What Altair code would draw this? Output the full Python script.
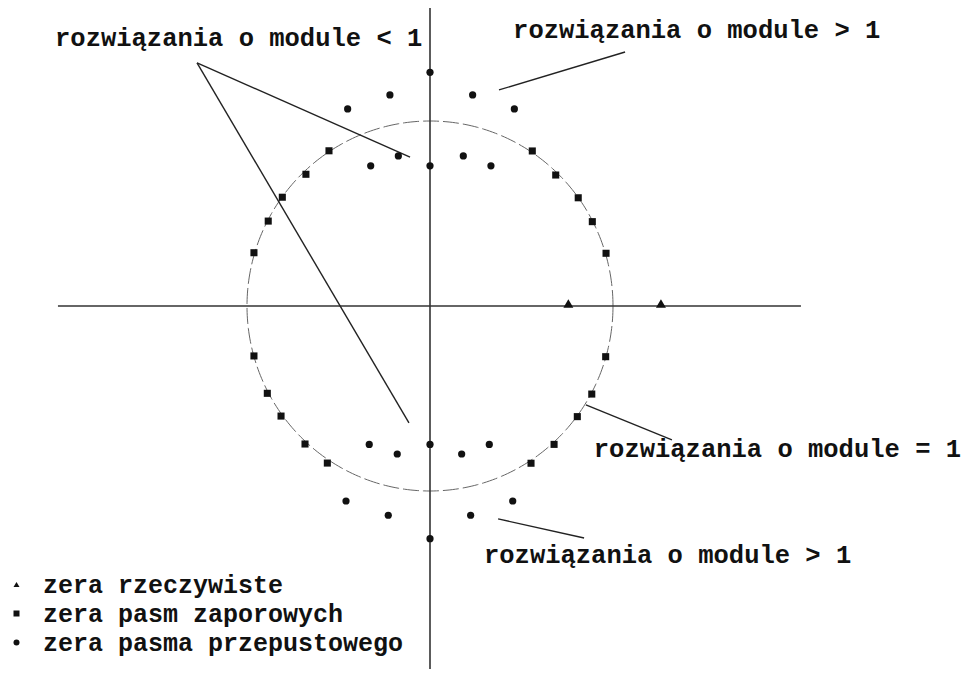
import numpy as np
import pandas as pd
import altair as alt

# ---------------- data (coordinates in units of the unit circle) ----------------
real_x = [0.756, 1.262]
real_y = [0.0, 0.0]

stop_x = [-0.552, -0.678, -0.807, -0.884, -0.962, 0.559, 0.687, 0.810, 0.887, 0.962,
          -0.962, -0.889, -0.814, -0.683, -0.561, 0.960, 0.884, 0.805, 0.678, 0.552]
stop_y = [0.839, 0.712, 0.588, 0.459, 0.288, 0.838, 0.708, 0.585, 0.456, 0.285,
          -0.270, -0.472, -0.595, -0.746, -0.849, -0.274, -0.476, -0.598, -0.748, -0.850]

pass_x = [0.0, -0.219, 0.233, -0.450, 0.461, -0.173, 0.182, -0.324, 0.333, 0.0,
          0.0, -0.332, 0.324, -0.179, 0.173, -0.459, 0.452, -0.228, 0.222, 0.0]
pass_y = [1.263, 1.141, 1.141, 1.065, 1.065, 0.811, 0.811, 0.758, 0.758, 0.758,
          -0.748, -0.748, -0.748, -0.800, -0.800, -1.054, -1.054, -1.131, -1.131, -1.258]

legend_labels = ["zera rzeczywiste", "zera pasm zaporowych", "zera pasma przepustowego"]

note_texts = ["rozwiązania o module < 1", "rozwiązania o module > 1",
              "rozwiązania o module = 1", "rozwiązania o module > 1"]
note_x = [-2.049, 0.454, 0.895, 0.295]
note_y = [1.405, 1.449, -0.816, -1.389]

leader_x = [-1.273, -1.273, 1.066, 0.852, 0.372]
leader_y = [1.314, 1.314, 1.373, -0.535, -1.151]
leader_x2 = [-0.109, -0.115, 0.377, 1.322, 0.842]
leader_y2 = [0.805, -0.632, 1.168, -0.724, -1.254]

# ---------------- layout ----------------
W, H = 961, 661
X_DOM = [-2.30601, 2.94536]
Y_DOM = [-1.96216, 1.61081]
FONT = "Liberation Mono"
INK = "#111111"

xs = alt.Scale(domain=X_DOM, nice=False, zero=False)
ys = alt.Scale(domain=Y_DOM, nice=False, zero=False)

pts = pd.concat([
    pd.DataFrame({"x": real_x, "y": real_y, "kind": legend_labels[0]}),
    pd.DataFrame({"x": stop_x, "y": stop_y, "kind": legend_labels[1]}),
    pd.DataFrame({"x": pass_x, "y": pass_y, "kind": legend_labels[2]}),
], ignore_index=True)

shape_scale = alt.Scale(domain=legend_labels, range=["triangle-up", "square", "circle"])
legend = alt.Legend(title=None, orient="none", legendX=-4, legendY=564,
                    labelFont=FONT, labelFontSize=25, labelFontWeight="bold",
                    labelColor=INK, symbolSize=36, symbolFillColor=INK,
                    symbolStrokeWidth=0, labelOffset=14, rowPadding=3, padding=0,
                    labelLimit=0)

def point_layer(kind, size, yoff=0):
    return alt.Chart(pts).transform_filter(alt.datum.kind == kind).mark_point(
        filled=True, size=size, opacity=1, yOffset=yoff
    ).encode(
        x=alt.X("x:Q", scale=xs, axis=None),
        y=alt.Y("y:Q", scale=ys, axis=None),
        shape=alt.Shape("kind:N", scale=shape_scale, legend=legend),
        color=alt.value(INK),
    )

# unit circle (reference curve)
t = np.linspace(0, 2 * np.pi, 361)
circ = pd.DataFrame({"x": np.cos(t), "y": np.sin(t), "o": np.arange(361)})
circle = alt.Chart(circ).mark_line(color="#666666", strokeWidth=1, strokeDash=[16, 4]).encode(
    x=alt.X("x:Q", scale=xs, axis=None),
    y=alt.Y("y:Q", scale=ys, axis=None),
    order="o:Q",
)

axes_df = pd.DataFrame({"x": [-2.033, 0.0], "x2": [2.027, 0.0],
                        "y": [0.0, Y_DOM[1]], "y2": [0.0, Y_DOM[0]]})
axes = alt.Chart(axes_df).mark_rule(color="#333333", strokeWidth=1.6).encode(
    x=alt.X("x:Q", scale=xs, axis=None), x2="x2:Q",
    y=alt.Y("y:Q", scale=ys, axis=None), y2="y2:Q",
)

lead_df = pd.DataFrame({"x": leader_x, "y": leader_y, "x2": leader_x2, "y2": leader_y2})
leaders = alt.Chart(lead_df).mark_rule(color="#222222", strokeWidth=1.4).encode(
    x=alt.X("x:Q", scale=xs, axis=None), x2="x2:Q",
    y=alt.Y("y:Q", scale=ys, axis=None), y2="y2:Q",
)

notes_df = pd.DataFrame({"t": note_texts, "x": note_x, "y": note_y})
notes = alt.Chart(notes_df).mark_text(
    align="left", baseline="alphabetic", font=FONT, fontSize=25.5,
    fontWeight="bold", color=INK,
).encode(
    x=alt.X("x:Q", scale=xs, axis=None),
    y=alt.Y("y:Q", scale=ys, axis=None),
    text="t:N",
)

chart = alt.layer(
    circle, axes, leaders,
    point_layer(legend_labels[0], 100, -2.5),
    point_layer(legend_labels[1], 50),
    point_layer(legend_labels[2], 52),
    notes,
).properties(
    width=W, height=H, autosize=alt.AutoSizeParams(type="none"), padding=0,
    background="white",
).configure_view(stroke=None)

chart.save("out.html", embed_options={"renderer": "svg", "actions": False})
